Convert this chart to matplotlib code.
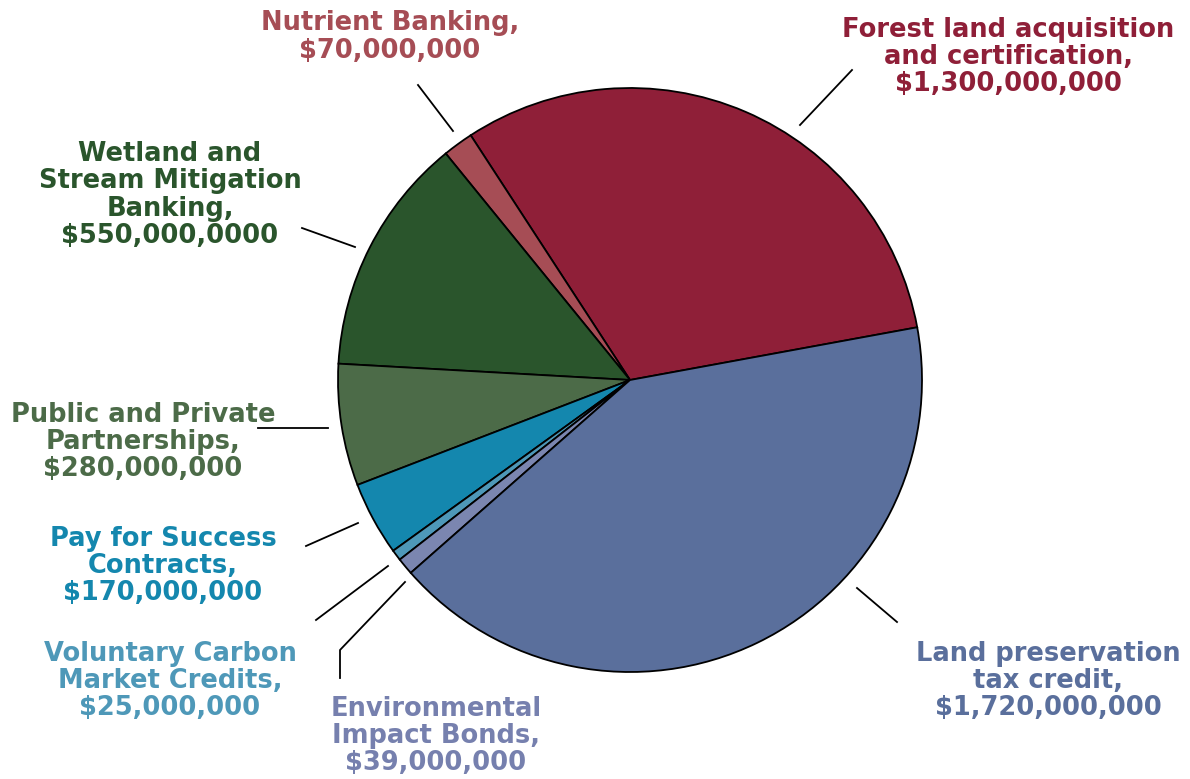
import matplotlib.pyplot as plt

# data, counter-clockwise from the right edge of the forest slice
labels = ["Forest land acquisition\nand certification,\n$1,300,000,000",
          "Nutrient Banking,\n$70,000,000",
          "Wetland and\nStream Mitigation\nBanking,\n$550,000,0000",
          "Public and Private\nPartnerships,\n$280,000,000",
          "Pay for Success\nContracts,\n$170,000,000",
          "Voluntary Carbon\nMarket Credits,\n$25,000,000",
          "Environmental\nImpact Bonds,\n$39,000,000",
          "Land preservation\ntax credit,\n$1,720,000,000"]
values = [1300, 70, 550, 280, 170, 25, 39, 1720]
colors = ["#8F1F38", "#A64D55", "#2A552C", "#4C6B48",
          "#1487AE", "#4E98B8", "#7B86B0", "#5A6F9C"]
text_colors = ["#8F1F38", "#A64D55", "#2A552C", "#4C6B48",
               "#1487AE", "#4E98B8", "#7680AE", "#5A6F9C"]

W, H = 1190, 779
fig = plt.figure(figsize=(W / 100, H / 100), dpi=100)
ax = fig.add_axes([0, 0, 1, 1])

ax.pie(values, colors=colors, startangle=10.4, counterclock=True,
       center=(630, H - 380), radius=292,
       wedgeprops=dict(edgecolor="black", linewidth=1.3))
ax.set_xlim(0, W)
ax.set_ylim(0, H)
ax.set_aspect("equal")
ax.axis("off")

# label anchors (pixel coords, top-left origin) and leader lines
label_pos = [(1008, 57), (390, 37), (170, 195), (143, 442),
             (163, 566), (170, 681), (436, 736), (1048, 681)]
leaders = [[(852, 70), (800, 125)],
           [(418, 85), (453, 131)],
           [(302, 228), (355, 247)],
           [(258, 428), (328, 428)],
           [(306, 546), (358, 523)],
           [(316, 620), (388, 566)],
           [(340, 678), (340, 650), (405, 582)],
           [(857, 588), (897, 622)]]

for lab, pos, tc in zip(labels, label_pos, text_colors):
    ax.text(pos[0], H - pos[1], lab, ha="center", va="center",
            color=tc, fontsize=18.5, fontweight="bold", family="DejaVu Sans",
            linespacing=1.07)

for pts in leaders:
    ax.plot([p[0] for p in pts], [H - p[1] for p in pts],
            color="black", linewidth=1.3)

fig.savefig("out.png", dpi=100)
